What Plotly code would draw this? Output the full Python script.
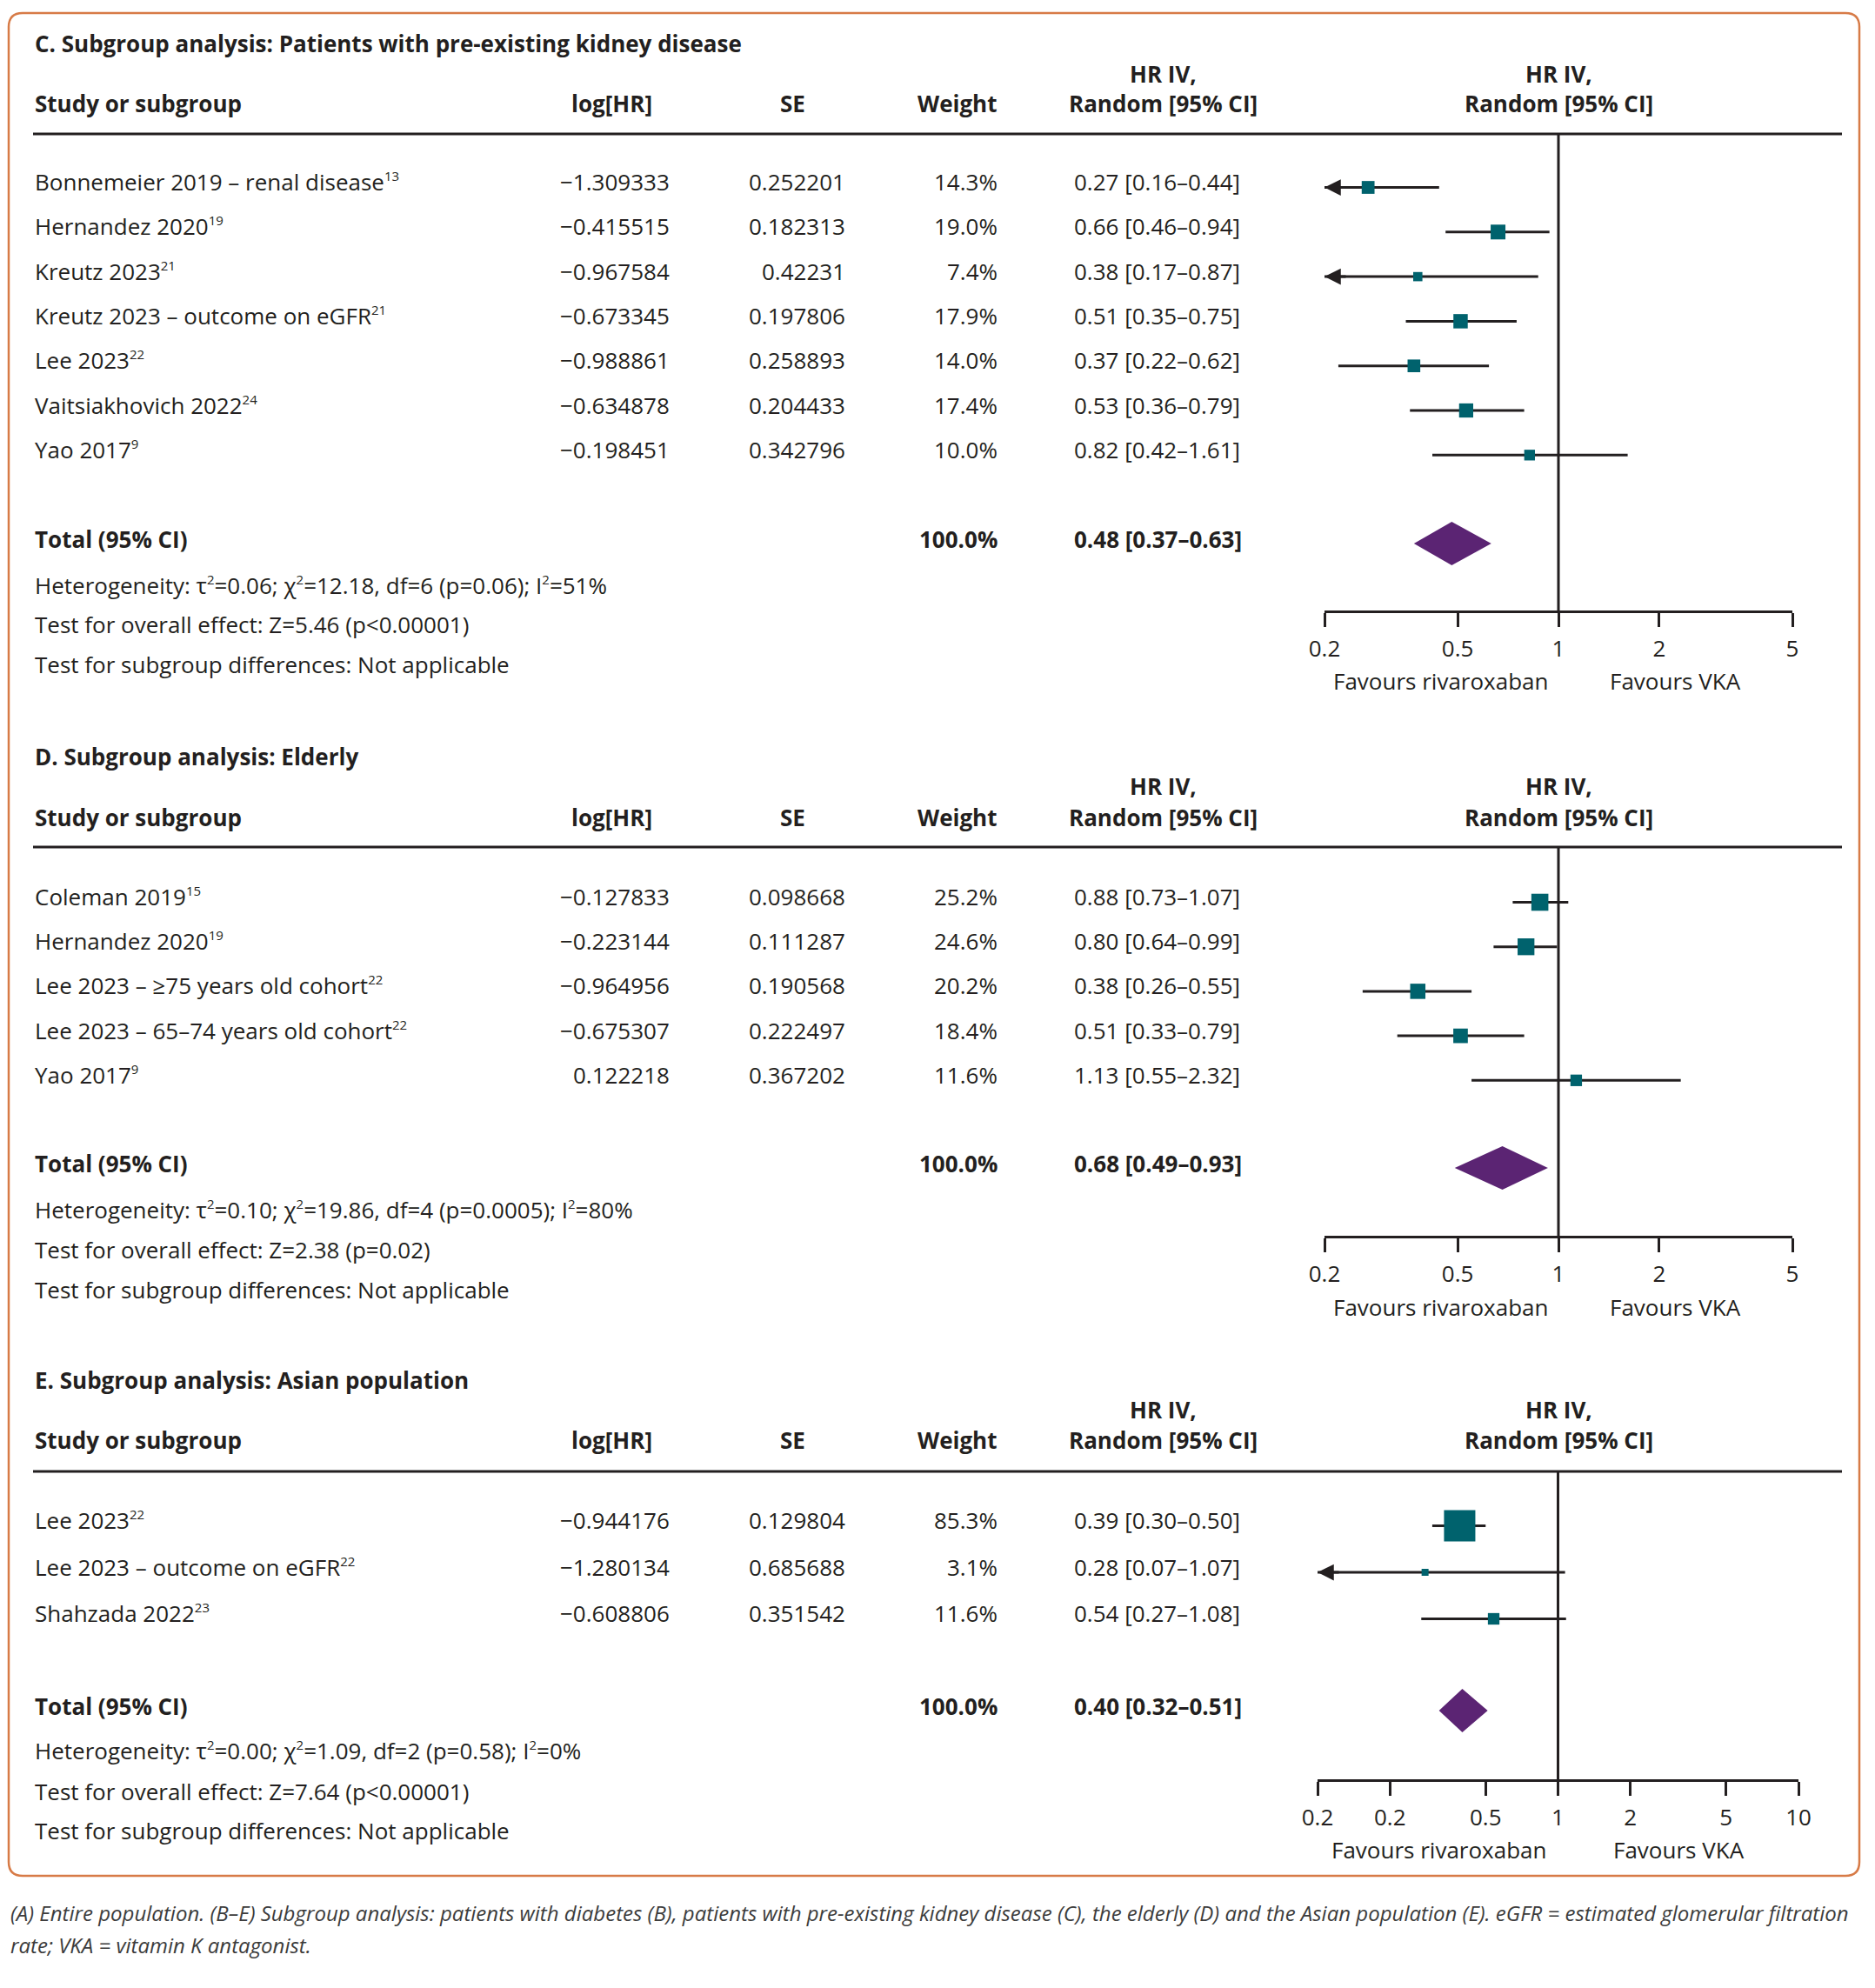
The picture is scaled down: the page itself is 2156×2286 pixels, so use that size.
import math
import plotly.graph_objects as go

# ---------------- DATA ----------------
# Panel C: pre-existing kidney disease
c_title = "C. Subgroup analysis: Patients with pre-existing kidney disease"
c_studies = ["Bonnemeier 2019 – renal disease", "Hernandez 2020", "Kreutz 2023",
             "Kreutz 2023 – outcome on eGFR", "Lee 2023", "Vaitsiakhovich 2022", "Yao 2017"]
c_refs = ["13", "19", "21", "21", "22", "24", "9"]
c_loghr = [-1.309333, -0.415515, -0.967584, -0.673345, -0.988861, -0.634878, -0.198451]
c_se = [0.252201, 0.182313, 0.42231, 0.197806, 0.258893, 0.204433, 0.342796]
c_weight = [14.3, 19.0, 7.4, 17.9, 14.0, 17.4, 10.0]
c_hr = [0.27, 0.66, 0.38, 0.51, 0.37, 0.53, 0.82]
c_lo = [0.16, 0.46, 0.17, 0.35, 0.22, 0.36, 0.42]
c_hi = [0.44, 0.94, 0.87, 0.75, 0.62, 0.79, 1.61]
c_total = [0.48, 0.37, 0.63]
c_stats = ["Heterogeneity: τ<sup>2</sup>=0.06; χ<sup>2</sup>=12.18, df=6 (p=0.06); I<sup>2</sup>=51%",
           "Test for overall effect: Z=5.46 (p<0.00001)",
           "Test for subgroup differences: Not applicable"]

# Panel D: elderly
d_title = "D. Subgroup analysis: Elderly"
d_studies = ["Coleman 2019", "Hernandez 2020", "Lee 2023 – ≥75 years old cohort",
             "Lee 2023 – 65–74 years old cohort", "Yao 2017"]
d_refs = ["15", "19", "22", "22", "9"]
d_loghr = [-0.127833, -0.223144, -0.964956, -0.675307, 0.122218]
d_se = [0.098668, 0.111287, 0.190568, 0.222497, 0.367202]
d_weight = [25.2, 24.6, 20.2, 18.4, 11.6]
d_hr = [0.88, 0.80, 0.38, 0.51, 1.13]
d_lo = [0.73, 0.64, 0.26, 0.33, 0.55]
d_hi = [1.07, 0.99, 0.55, 0.79, 2.32]
d_total = [0.68, 0.49, 0.93]
d_stats = ["Heterogeneity: τ<sup>2</sup>=0.10; χ<sup>2</sup>=19.86, df=4 (p=0.0005); I<sup>2</sup>=80%",
           "Test for overall effect: Z=2.38 (p=0.02)",
           "Test for subgroup differences: Not applicable"]

# Panel E: Asian population
e_title = "E. Subgroup analysis: Asian population"
e_studies = ["Lee 2023", "Lee 2023 – outcome on eGFR", "Shahzada 2022"]
e_refs = ["22", "22", "23"]
e_loghr = [-0.944176, -1.280134, -0.608806]
e_se = [0.129804, 0.685688, 0.351542]
e_weight = [85.3, 3.1, 11.6]
e_hr = [0.39, 0.28, 0.54]
e_lo = [0.30, 0.07, 0.27]
e_hi = [0.50, 1.07, 1.08]
e_total = [0.40, 0.32, 0.51]
e_stats = ["Heterogeneity: τ<sup>2</sup>=0.00; χ<sup>2</sup>=1.09, df=2 (p=0.58); I<sup>2</sup>=0%",
           "Test for overall effect: Z=7.64 (p<0.00001)",
           "Test for subgroup differences: Not applicable"]

ticks_cd = [0.2, 0.5, 1, 2, 5]
ticklabels_cd = ["0.2", "0.5", "1", "2", "5"]
ticks_e = [0.1, 0.2, 0.5, 1, 2, 5, 10]
ticklabels_e = ["0.2", "0.2", "0.5", "1", "2", "5", "10"]
axis_cd = [0.2, 5]
axis_e = [0.1, 10]

col_headers = ["Study or subgroup", "log[HR]", "SE", "Weight", "Random [95% CI]", "Random [95% CI]"]
favours = ["Favours rivaroxaban", "Favours VKA"]
caption = ["(A) Entire population. (B–E) Subgroup analysis: patients with diabetes (B), patients with pre-existing kidney disease (C), the elderly (D) and the Asian population (E). eGFR = estimated glomerular filtration",
           "rate; VKA = vitamin K antagonist."]

# ---------------- LAYOUT CONSTANTS ----------------
PAGE_W, PAGE_H = 2156, 2286
BODY = 8                      # default page margin around the plot div
W, H = PAGE_W - 2 * BODY, PAGE_H - 2 * BODY
FONT = "Open Sans"
TXT = "#231F20"
TEAL = "#00626D"
PURPLE = "#5B2473"
ORANGE = "#D77B47"
FS = 26
FB = 26


def px(x):
    return (x - BODY) / W


def py(y):
    return 1 - (y - BODY) / H


def sup(s):
    return f'<sup><span style="font-size:15px">{s}</span></sup>'


panels = [
    dict(title=c_title, studies=c_studies, refs=c_refs, loghr=c_loghr, se=c_se, weight=c_weight,
         hr=c_hr, lo=c_lo, hi=c_hi, total=c_total, stats=c_stats,
         ticks=ticks_cd, ticklabels=ticklabels_cd, rng=axis_cd, xdom=(1523, 2061),
         y_title=50, y_h1=85, y_h2=119, y_line=154, y_row0=209, dy=51.3, y_total=620,
         y_stats=[673, 718, 764], y_axis=702, y_fav=783, fav_x=(1656, 1926)),
    dict(title=d_title, studies=d_studies, refs=d_refs, loghr=d_loghr, se=d_se, weight=d_weight,
         hr=d_hr, lo=d_lo, hi=d_hi, total=d_total, stats=d_stats,
         ticks=ticks_cd, ticklabels=ticklabels_cd, rng=axis_cd, xdom=(1523, 2061),
         y_title=870, y_h1=904, y_h2=940, y_line=974, y_row0=1031, dy=51.2, y_total=1338,
         y_stats=[1391, 1437, 1483], y_axis=1421, y_fav=1503, fav_x=(1656, 1926)),
    dict(title=e_title, studies=e_studies, refs=e_refs, loghr=e_loghr, se=e_se, weight=e_weight,
         hr=e_hr, lo=e_lo, hi=e_hi, total=e_total, stats=e_stats,
         ticks=ticks_e, ticklabels=ticklabels_e, rng=axis_e, xdom=(1515, 2068),
         y_title=1587, y_h1=1621, y_h2=1656, y_line=1692, y_row0=1748, dy=53.5, y_total=1962,
         y_stats=[2013, 2060, 2105], y_axis=2046, y_fav=2127, fav_x=(1654, 1930)),
]

fig = go.Figure()
annotations = []
shapes = []


def txt(x, y, s, anchor="left", bold=False, size=FS, italic=False, color=TXT, family=FONT):
    if bold:
        s = f"<b>{s}</b>"
    if italic:
        s = f"<i>{s}</i>"
    annotations.append(dict(x=px(x), y=py(y), xref="paper", yref="paper", text=s, showarrow=False,
                            xanchor=anchor, yanchor="middle",
                            font=dict(family=family, size=size, color=color)))


def fmt_num(v):
    return str(v).replace("-", "−")


X_LEFT, X_LOG, X_SE, X_W, X_HR, X_FOREST = 38, 772, 974, 1149, 1233, 1792
MARK_OFF = 6.5

layout_axes = {}
for i, p in enumerate(panels):
    n = "" if i == 0 else str(i + 1)
    xa, ya = "x" + n, "y" + n
    # titles and headers
    txt(X_LEFT, p["y_title"], p["title"], bold=True, size=FB)
    txt(1337, p["y_h1"], "HR IV,", anchor="center", bold=True, size=FB)
    txt(X_FOREST, p["y_h1"], "HR IV,", anchor="center", bold=True, size=FB)
    txt(X_LEFT, p["y_h2"], col_headers[0], bold=True, size=FB)
    txt(703, p["y_h2"], col_headers[1], anchor="center", bold=True, size=FB)
    txt(911, p["y_h2"], col_headers[2], anchor="center", bold=True, size=FB)
    txt(X_W, p["y_h2"], col_headers[3], anchor="right", bold=True, size=FB)
    txt(1337, p["y_h2"], col_headers[4], anchor="center", bold=True, size=FB)
    txt(X_FOREST, p["y_h2"], col_headers[5], anchor="center", bold=True, size=FB)
    shapes.append(dict(type="line", xref="paper", yref="paper", x0=px(38), x1=px(2118),
                       y0=py(p["y_line"]), y1=py(p["y_line"]), line=dict(color=TXT, width=3)))
    # rows
    rows_y = [p["y_row0"] + k * p["dy"] for k in range(len(p["studies"]))]
    for k, name in enumerate(p["studies"]):
        y = rows_y[k]
        txt(X_LEFT, y, f"{name}{sup(p['refs'][k])}")
        txt(X_LOG, y, fmt_num(p["loghr"][k]), anchor="right")
        txt(X_SE, y, fmt_num(p["se"][k]), anchor="right")
        txt(X_W, y, f"{p['weight'][k]:.1f}%", anchor="right")
        txt(X_HR, y, f"{p['hr'][k]:.2f} [{p['lo'][k]:.2f}–{p['hi'][k]:.2f}]")
    # total
    t_est, t_lo, t_hi = p["total"]
    txt(X_LEFT, p["y_total"], "Total (95% CI)", bold=True, size=FB)
    txt(X_W, p["y_total"], "100.0%", anchor="right", bold=True, size=FB)
    txt(X_HR, p["y_total"], f"{t_est:.2f} [{t_lo:.2f}–{t_hi:.2f}]", bold=True, size=FB)
    for s, yy in zip(p["stats"], p["y_stats"]):
        txt(X_LEFT, yy, s.replace("<sup>2</sup>", sup("2")))
    txt(p["fav_x"][0], p["y_fav"], favours[0], anchor="center")
    txt(p["fav_x"][1], p["y_fav"], favours[1], anchor="center")

    # ---- forest traces ----
    fig.add_trace(go.Scatter(x=[1, 1], y=[p["y_line"], p["y_axis"]], mode="lines",
                             line=dict(color=TXT, width=3), xaxis=xa, yaxis=ya,
                             hoverinfo="skip", showlegend=False, cliponaxis=False))
    lx, ly = [], []
    for k in range(len(p["studies"])):
        y = rows_y[k] + MARK_OFF
        lx += [max(p["lo"][k], p["rng"][0]), min(p["hi"][k], p["rng"][1]), None]
        ly += [y, y, None]
    fig.add_trace(go.Scatter(x=lx, y=ly, mode="lines", line=dict(color=TXT, width=3),
                             xaxis=xa, yaxis=ya, hoverinfo="skip", showlegend=False))
    for k in range(len(p["studies"])):
        if p["lo"][k] < p["rng"][0]:
            annotations.append(dict(x=math.log10(p["rng"][0]), y=rows_y[k] + MARK_OFF, xref=xa, yref=ya,
                                    ax=26, ay=0, axref="pixel", ayref="pixel", text="", showarrow=True,
                                    arrowhead=2, arrowsize=1.25, arrowwidth=3, arrowcolor=TXT, standoff=0))
    fig.add_trace(go.Scatter(x=p["hr"], y=[y + MARK_OFF for y in rows_y], mode="markers",
                             marker=dict(symbol="square", color=TEAL, opacity=1,
                                         size=[max(8, 3.9 * math.sqrt(w)) for w in p["weight"]],
                                         line=dict(width=0)),
                             xaxis=xa, yaxis=ya, hoverinfo="skip", showlegend=False))
    yc = p["y_total"] + 5
    fig.add_trace(go.Scatter(x=[t_lo, t_est, t_hi, t_est, t_lo], y=[yc, yc - 25, yc, yc + 25, yc],
                             mode="lines", fill="toself", fillcolor=PURPLE, line=dict(width=0, color=PURPLE),
                             xaxis=xa, yaxis=ya, hoverinfo="skip", showlegend=False))

    layout_axes["xaxis" + n] = dict(type="log", domain=[px(p["xdom"][0]), px(p["xdom"][1])],
                                    range=[math.log10(p["rng"][0]), math.log10(p["rng"][1])],
                                    anchor=ya, showline=True, linecolor=TXT, linewidth=3,
                                    ticks="outside", ticklen=16, tickwidth=3, tickcolor=TXT,
                                    tickvals=p["ticks"], ticktext=p["ticklabels"],
                                    tickfont=dict(family=FONT, size=FS, color=TXT),
                                    ticklabelstandoff=3, automargin=False,
                                    showgrid=False, zeroline=False, fixedrange=True)
    layout_axes["yaxis" + n] = dict(domain=[py(p["y_axis"]), py(p["y_line"])],
                                    range=[p["y_axis"], p["y_line"]], anchor=xa, automargin=False,
                                    visible=False, showgrid=False, zeroline=False, fixedrange=True)

# border with rounded corners
x0, y0, x1, y1, r = 10, 15, 2138, 2157, 16
path = (f"M {px(x0 + r)},{py(y0)} L {px(x1 - r)},{py(y0)} Q {px(x1)},{py(y0)} {px(x1)},{py(y0 + r)} "
        f"L {px(x1)},{py(y1 - r)} Q {px(x1)},{py(y1)} {px(x1 - r)},{py(y1)} "
        f"L {px(x0 + r)},{py(y1)} Q {px(x0)},{py(y1)} {px(x0)},{py(y1 - r)} "
        f"L {px(x0)},{py(y0 + r)} Q {px(x0)},{py(y0)} {px(x0 + r)},{py(y0)} Z")
shapes.append(dict(type="path", xref="paper", yref="paper", path=path, line=dict(color=ORANGE, width=2.5)))

# caption
txt(10, 2199, caption[0], italic=True, size=24, color="#3C3C3C", family="Open Sans")
txt(10, 2236, caption[1], italic=True, size=24, color="#3C3C3C", family="Open Sans")

fig.update_layout(width=W, height=H, margin=dict(l=0, r=0, t=0, b=0, pad=0, autoexpand=False),
                  paper_bgcolor="white", plot_bgcolor="rgba(0,0,0,0)",
                  annotations=annotations, shapes=shapes, showlegend=False,
                  font=dict(family=FONT, color=TXT), **layout_axes)

fig.write_html("out.html")
